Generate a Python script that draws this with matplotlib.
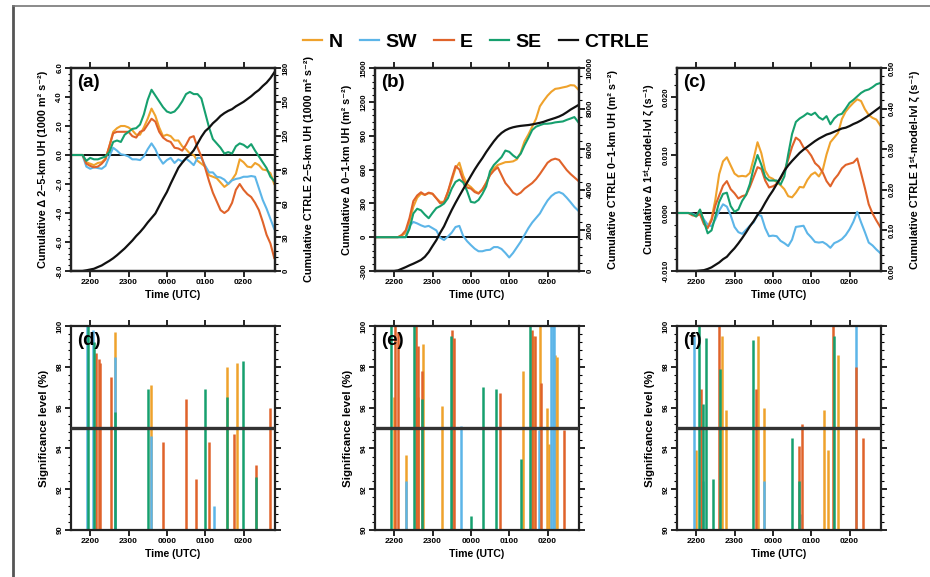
import matplotlib
matplotlib.use('Agg')
import matplotlib.pyplot as plt
from matplotlib.lines import Line2D
from matplotlib.ticker import MultipleLocator, FormatStrFormatter

plt.rcParams['font.family'] = ['Liberation Sans', 'DejaVu Sans']
plt.rcParams['font.weight'] = 'bold'
plt.rcParams['axes.labelweight'] = 'bold'

# ---------------- data ----------------
# time in hours after 2200 UTC
time_h = [-0.5, -0.4, -0.3, -0.2, -0.1,
          0.0, 0.1, 0.2, 0.3, 0.4,
          0.5, 0.6, 0.7, 0.8, 0.9,
          1.0, 1.1, 1.2, 1.3, 1.4,
          1.5, 1.6, 1.7, 1.8, 1.9,
          2.0, 2.1, 2.2, 2.3, 2.4,
          2.5, 2.6, 2.7, 2.8, 2.9,
          3.0, 3.1, 3.2, 3.3, 3.4,
          3.5, 3.6, 3.7, 3.8, 3.9,
          4.0, 4.1, 4.2, 4.3, 4.4,
          4.5, 4.6, 4.7, 4.8]
hour_ticks = [0, 1, 2, 3, 4]
hour_labels = ['2200', '2300', '0000', '0100', '0200']
series_names = ['N', 'SW', 'E', 'SE', 'CTRLE']
colors = {'N': '#EFA22C', 'SW': '#5CB5E8', 'E': '#E0632A', 'SE': '#16A06E', 'CTRLE': '#111111'}

# (a) cumulative delta 2-5-km UH (1000 m2 s-2); CTRLE on right axis
a_N = [0, 0, 0, 0, -0.5, -0.6, -0.7, -0.55, -0.5, -0.25, 0.6, 1.6, 1.85, 2.0, 2.0,
       1.9, 1.7, 1.4, 1.4, 1.9, 2.5, 3.2, 2.7, 1.9, 1.3, 1.4, 1.3, 1.0, 1.0, 0.6,
       0.4, 0.1, 0.0, -0.4, -0.6, -0.8, -1.4, -1.5, -1.6, -1.9, -2.2, -2.0, -1.7, -1.3, -0.3,
       -0.5, -0.8, -0.85, -0.55, -0.7, -1.0, -1.05, -1.25, -2.0]
a_SW = [0, 0, 0, 0, -0.8, -0.95, -0.85, -0.9, -0.95, -0.75, -0.1, 0.5, 0.3, 0.05, 0.0,
        -0.1, -0.3, -0.3, -0.35, -0.1, 0.4, 0.8, 0.4, -0.2, -0.6, -0.35, -0.2, -0.55, -0.3, -0.45,
        -0.25, -0.45, -0.7, -0.2, -0.2, -0.75, -1.2, -1.2, -1.5, -1.55, -1.7, -2.0, -1.75, -1.65, -1.6,
        -1.5, -1.5, -1.45, -1.5, -2.3, -3.1, -3.7, -4.4, -5.1]
a_E = [0, 0, 0, 0, -0.6, -0.75, -0.85, -0.8, -0.6, -0.3, 0.6, 1.5, 1.6, 1.6, 1.6,
       1.6, 1.3, 1.2, 1.6, 1.7, 2.1, 2.5, 2.3, 1.6, 1.2, 1.0, 0.9, 0.5, 0.45, 0.3,
       0.7, 1.2, 1.3, 0.5, -0.1, -0.9, -1.8, -2.6, -3.2, -3.8, -4.0, -3.8, -3.3, -2.4, -2.0,
       -2.4, -2.7, -2.9, -3.3, -3.8, -4.6, -5.5, -6.1, -7.1]
a_SE = [0, 0, 0, 0, -0.4, -0.2, -0.3, -0.3, -0.2, -0.1, 0.2, 0.9, 1.0, 0.9, 1.4,
        1.6, 1.8, 1.85, 2.1, 2.8, 3.8, 4.5, 4.1, 3.7, 3.3, 3.0, 2.9, 3.0, 3.3, 3.7,
        4.2, 4.35, 4.2, 4.2, 3.9, 2.9, 1.9, 1.1, 0.8, 0.5, 0.1, 0.2, 0.1, 0.6, 0.8,
        0.7, 0.5, 0.75, 0.3, -0.1, -0.5, -0.9, -1.5, -1.8]
a_CTRLE = [0, 0, 0, 0, 0.6, 1.3, 2.0, 3.5, 4.9, 7, 9, 11.3, 14, 17, 20,
           23.5, 27, 31, 34.5, 38.5, 43, 47, 51, 57.5, 64, 70, 77.5, 84.5, 91.5, 96,
           100, 103, 107, 113, 119, 124, 127, 131, 134, 137.5, 140, 142, 143.5, 146, 148,
           150, 152.5, 155, 158, 160.5, 164, 167, 171, 176]

# (b) cumulative delta 0-1-km UH (m2 s-2)
b_N = [0, 0, 0, 0, 0, 0, 0, 15, 38, 140, 270, 350, 386, 375, 390,
       385, 345, 313, 313, 400, 500, 610, 660, 545, 470, 445, 410, 390, 420, 485,
       555, 610, 640, 652, 665, 667, 672, 690, 750, 850, 910, 980, 1050, 1160, 1210,
       1255, 1290, 1315, 1320, 1328, 1335, 1348, 1345, 1310]
b_SW = [0, 0, 0, 0, 0, 0, 0, 0, 0, 100, 135, 122, 105, 92, 100,
        80, 60, -5, -25, 5, 40, 90, 100, 10, -35, -70, -102, -125, -125, -115,
        -112, -88, -88, -105, -140, -180, -140, -90, -40, 20, 80, 130, 170, 210, 270,
        325, 365, 390, 400, 385, 350, 310, 268, 235]
b_E = [0, 0, 0, 0, 0, 0, 0, 20, 60, 170, 320, 370, 398, 375, 395,
       385, 345, 300, 310, 400, 520, 630, 600, 505, 440, 431, 400, 386, 425, 478,
       550, 590, 620, 550, 480, 440, 395, 375, 395, 430, 455, 480, 515, 560, 610,
       660, 685, 696, 685, 640, 595, 560, 530, 500]
b_SE = [0, 0, 0, 0, 0, 0, 0, 0, 0, 75, 210, 252, 238, 200, 168,
        215, 258, 275, 298, 345, 430, 490, 510, 485, 410, 313, 306, 330, 383, 450,
        585, 640, 675, 710, 768, 757, 725, 700, 740, 815, 880, 950, 980, 993, 1005,
        1006, 1010, 1018, 1022, 1026, 1040, 1052, 1065, 1020]
b_CTRLE = [0, 0, 0, 0, 0, 0, 30, 110, 190, 280, 360, 450, 545, 700, 930,
           1230, 1520, 1880, 2200, 2610, 3000, 3360, 3700, 4030, 4350, 4680, 5000, 5290, 5560, 5860,
           6130, 6390, 6620, 6800, 6930, 7020, 7080, 7120, 7150, 7170, 7190, 7220, 7260, 7300, 7350,
           7420, 7480, 7540, 7610, 7700, 7820, 7950, 8060, 8170]

# (c) cumulative delta 1st-model-level vorticity (s-1)
c_N = [0, 0, 0, 0, -0.0002, -0.0006, 0.0005, -0.0014, -0.0024, -0.0010,
       0.0023, 0.0067, 0.0089, 0.0096, 0.0082, 0.0068, 0.0063, 0.0064, 0.0063, 0.0069,
       0.0094, 0.0122, 0.0103, 0.0073, 0.0062, 0.0059, 0.0053, 0.0048, 0.0041, 0.0029,
       0.0027, 0.0035, 0.0045, 0.0044, 0.0057, 0.0066, 0.0070, 0.0063, 0.0074, 0.0101,
       0.0122, 0.0130, 0.0138, 0.0162, 0.0175, 0.0183, 0.0190, 0.0196, 0.0193, 0.0179,
       0.0169, 0.0164, 0.0161, 0.0151]
c_SW = [0, 0, 0, 0, -0.0001, -0.0004, 0.0, -0.0011, -0.0020, -0.0023,
        -0.0011, 0.0004, 0.0015, 0.0011, -0.0004, -0.0024, -0.0033, -0.0036, -0.0029, -0.0022,
        -0.0016, -0.0003, -0.0005, -0.0026, -0.0040, -0.0039, -0.0040, -0.0048, -0.0052, -0.0057,
        -0.0046, -0.0024, -0.0023, -0.0022, -0.0035, -0.0042, -0.0050, -0.0051, -0.0050, -0.0054,
        -0.0060, -0.0052, -0.0049, -0.0045, -0.0038, -0.0028, -0.0015, 0.0002, -0.0016, -0.0033,
        -0.0051, -0.0056, -0.0063, -0.0069]
c_E = [0, 0, 0, 0, -0.0004, -0.0005, -0.0002, -0.0019, -0.0026, -0.0013,
       0.0013, 0.0030, 0.0047, 0.0055, 0.0041, 0.0034, 0.0025, 0.0029, 0.0031, 0.0045,
       0.0062, 0.0079, 0.0076, 0.0056, 0.0044, 0.0046, 0.0050, 0.0059, 0.0072, 0.0092,
       0.0114, 0.0130, 0.0125, 0.0113, 0.0108, 0.0099, 0.0086, 0.0080, 0.0070, 0.0055,
       0.0046, 0.0058, 0.0066, 0.0077, 0.0083, 0.0085, 0.0087, 0.0094, 0.0069, 0.0043,
       0.0015, -0.0001, -0.0013, -0.0024]
c_SE = [0, 0, 0, 0, -0.0002, -0.0006, 0.0006, -0.0014, -0.0035, -0.0030,
        -0.0006, 0.0019, 0.0033, 0.0035, 0.0012, 0.0002, 0.0006, 0.0021, 0.0031, 0.0050,
        0.0078, 0.0100, 0.0083, 0.0062, 0.0056, 0.0056, 0.0056, 0.0049, 0.0063, 0.0101,
        0.0136, 0.0157, 0.0163, 0.0167, 0.0172, 0.0169, 0.0173, 0.0165, 0.0161, 0.0167,
        0.0153, 0.0163, 0.0169, 0.0171, 0.0180, 0.0190, 0.0195, 0.0201, 0.0207, 0.0211,
        0.0213, 0.0217, 0.0222, 0.0224]
c_CTRLE = [0, 0, 0, 0, 0, 0.0, 0.001, 0.002, 0.005, 0.009,
           0.015, 0.021, 0.029, 0.035, 0.046, 0.056, 0.068, 0.081, 0.095, 0.110,
           0.123, 0.138, 0.151, 0.168, 0.184, 0.198, 0.214, 0.230, 0.247, 0.260,
           0.271, 0.281, 0.291, 0.299, 0.306, 0.313, 0.320, 0.326, 0.331, 0.336,
           0.339, 0.343, 0.347, 0.351, 0.353, 0.357, 0.362, 0.366, 0.371, 0.377,
           0.383, 0.390, 0.397, 0.404]

# significance levels (%) of the spikes: time (h after 2200) and level
d_N_time = [0.65, 1.58, 3.58, 3.83]
d_N_sig = [99.7, 97.1, 98.0, 98.2]
d_SW_time = [-0.07, 0.08, 0.65, 1.58, 3.23]
d_SW_sig = [100, 99.8, 98.5, 94.6, 91.2]
d_E_time = [0.16, 0.22, 0.26, 0.55, 1.91, 2.50, 2.75, 3.09, 3.74, 4.32, 4.68]
d_E_sig = [98.7, 98.4, 98.2, 97.5, 94.3, 96.4, 92.5, 94.3, 94.7, 93.2, 96.0]
d_SE_time = [-0.05, 0.11, 0.66, 1.50, 2.99, 3.58, 3.98, 4.33]
d_SE_sig = [100, 99.2, 95.8, 96.9, 96.9, 96.5, 98.3, 92.6]

e_N_time = [0.0, 0.31, 0.63, 0.75, 1.24, 3.37, 3.63, 3.81, 3.98, 4.05, 4.20, 4.25]
e_N_sig = [96.5, 93.7, 96.5, 99.1, 96.1, 97.8, 99.5, 100, 96.0, 94.2, 98.6, 98.5]
e_SW_time = [0.31, 1.74, 3.77, 4.10, 4.14, 4.17]
e_SW_sig = [92.4, 95.1, 94.9, 100, 100, 100]
e_E_time = [0.03, 0.09, 0.57, 0.61, 0.72, 1.50, 1.57, 2.75, 3.59, 3.68, 3.83, 4.42]
e_E_sig = [100, 99.7, 100, 99.0, 97.8, 99.8, 99.4, 96.7, 99.8, 99.5, 97.2, 94.9]
e_SE_time = [-0.09, 0.52, 0.73, 1.48, 2.00, 2.31, 2.66, 3.30, 3.55]
e_SE_sig = [100, 100, 96.4, 99.5, 90.7, 97.0, 96.9, 93.5, 100]

f_N_time = [-0.01, 0.67, 0.77, 1.60, 1.76, 3.34, 3.43, 3.69]
f_N_sig = [93.9, 99.5, 95.9, 99.5, 96.0, 95.9, 93.9, 98.6]
f_SW_time = [-0.05, 0.19, 1.76, 2.73, 4.17]
f_SW_sig = [99.5, 92.4, 92.4, 90.8, 100]
f_E_time = [0.12, 0.60, 1.57, 2.69, 2.75, 3.57, 4.17, 4.34]
f_E_sig = [96.9, 100, 96.9, 94.1, 95.2, 100, 98.0, 94.5]
f_SE_time = [0.08, 0.17, 0.25, 0.43, 0.62, 1.49, 2.50, 2.67, 3.60]
f_SE_sig = [100, 96.2, 99.4, 92.5, 97.9, 99.3, 94.5, 92.4, 99.5]

sig_threshold = 95

# ---------------- figure ----------------
fig = plt.figure(figsize=(9.3, 5.77), dpi=100)
W, H = 930.0, 577.0
lefts_px = [71, 375, 677]
width_px = 204
top_row = (68, 271)
bot_row = (326, 530)
XLIM = (-0.5, 4.82)

TICK_FS = 6.0
LAB_FS = 7.8


def make_ax(left_px, rows):
    t, b = rows
    return fig.add_axes([left_px / W, 1 - b / H, width_px / W, (b - t) / H])


def style_x(ax):
    ax.set_xlim(*XLIM)
    ax.set_xticks(hour_ticks)
    ax.set_xticklabels(hour_labels)
    ax.tick_params(axis='x', which='both', direction='out', top=True, bottom=True,
                   length=4, width=1.2, labelsize=TICK_FS, pad=1.5)
    ax.set_xlabel('Time (UTC)', fontsize=7.6, labelpad=3)
    for s in ax.spines.values():
        s.set_linewidth(1.6)
        s.set_color('#222222')


def style_y(ax, major, minor, fmt):
    ax.yaxis.set_major_locator(MultipleLocator(major))
    ax.yaxis.set_minor_locator(MultipleLocator(minor))
    ax.yaxis.set_major_formatter(FormatStrFormatter(fmt))
    ax.tick_params(axis='y', which='major', direction='out', length=4, width=1.2,
                   labelsize=TICK_FS - 0.3, labelrotation=90, pad=1.5)
    ax.tick_params(axis='y', which='minor', direction='out', length=2, width=0.8)
    for lab in ax.get_yticklabels():
        lab.set_va('center')


top_cfg = [
    dict(data=(a_N, a_SW, a_E, a_SE, a_CTRLE), ylim=(-8, 6), maj=2, mnr=0.4, fmt='%.1f',
         rylim=(0, 180), rmaj=30, rmnr=6, rfmt='%d',
         llab='Cumulative Δ 2–5-km UH (1000 m² s⁻²)',
         rlab='Cumulative CTRLE 2–5-km UH (1000 m² s⁻²)', tag='(a)'),
    dict(data=(b_N, b_SW, b_E, b_SE, b_CTRLE), ylim=(-300, 1500), maj=300, mnr=60, fmt='%d',
         rylim=(0, 10000), rmaj=2000, rmnr=400, rfmt='%d',
         llab='Cumulative Δ 0–1-km UH (m² s⁻²)',
         rlab='Cumulative CTRLE 0–1-km UH (m² s⁻²)', tag='(b)'),
    dict(data=(c_N, c_SW, c_E, c_SE, c_CTRLE), ylim=(-0.010, 0.025), maj=0.010, mnr=0.002, fmt='%.3f',
         rylim=(0, 0.5), rmaj=0.1, rmnr=0.02, rfmt='%.2f',
         llab='Cumulative Δ 1ˢᵗ-model-lvl ζ (s⁻¹)',
         rlab='Cumulative CTRLE 1ˢᵗ-model-lvl ζ (s⁻¹)', tag='(c)'),
]

for left, cfg in zip(lefts_px, top_cfg):
    ax = make_ax(left, top_row)
    ax.axhline(0, color='#111111', lw=1.4, zorder=1)
    for name, vals in zip(series_names[:4], cfg['data'][:4]):
        ax.plot(time_h, vals, color=colors[name], lw=1.5, zorder=2)
    ax.set_ylim(*cfg['ylim'])
    style_x(ax)
    style_y(ax, cfg['maj'], cfg['mnr'], cfg['fmt'])
    ax.set_ylabel(cfg['llab'], fontsize=LAB_FS, labelpad=6)
    ax.text(0.03, 0.97, cfg['tag'], transform=ax.transAxes, fontsize=13.5,
            fontweight='bold', va='top', ha='left')
    ax2 = ax.twinx()
    ax2.plot(time_h, cfg['data'][4], color=colors['CTRLE'], lw=1.6)
    ax2.set_ylim(*cfg['rylim'])
    ax2.set_xlim(*XLIM)
    style_y(ax2, cfg['rmaj'], cfg['rmnr'], cfg['rfmt'])
    ax2.set_ylabel(cfg['rlab'], fontsize=LAB_FS, labelpad=10)
    for s in ax2.spines.values():
        s.set_linewidth(1.6)
        s.set_color('#222222')

bot_cfg = [
    ((d_N_time, d_N_sig), (d_SW_time, d_SW_sig), (d_E_time, d_E_sig), (d_SE_time, d_SE_sig), '(d)'),
    ((e_N_time, e_N_sig), (e_SW_time, e_SW_sig), (e_E_time, e_E_sig), (e_SE_time, e_SE_sig), '(e)'),
    ((f_N_time, f_N_sig), (f_SW_time, f_SW_sig), (f_E_time, f_E_sig), (f_SE_time, f_SE_sig), '(f)'),
]

for left, cfg in zip(lefts_px, bot_cfg):
    ax = make_ax(left, bot_row)
    for name, (tt, vv) in zip(series_names[:4], cfg[:4]):
        ax.vlines(tt, 89, vv, colors=colors[name], lw=1.8, zorder=2)
    ax.axhline(sig_threshold, color='#333333', lw=2.4, zorder=3)
    ax.set_ylim(90, 100)
    style_x(ax)
    style_y(ax, 2, 0.4, '%d')
    ax.tick_params(axis='y', which='both', right=True)
    ax.set_ylabel('Significance level (%)', fontsize=8.2, labelpad=5)
    ax.text(0.03, 0.97, cfg[4], transform=ax.transAxes, fontsize=13.5,
            fontweight='bold', va='top', ha='left', zorder=5)

# legend
handles = [Line2D([], [], color=colors[n], lw=1.6) for n in series_names]
fig.legend(handles, series_names, loc='center', bbox_to_anchor=(476 / W, 1 - 42 / H),
           ncol=5, frameon=False, handlelength=1.0, handletextpad=0.3,
           columnspacing=0.9, prop={'weight': 'bold', 'size': 14})

# page frame lines
fig.add_artist(Line2D([13 / W, 13 / W], [0, 1 - 6 / H], transform=fig.transFigure,
                      color='#555555', lw=2.0))
fig.add_artist(Line2D([13 / W, 1], [1 - 6 / H, 1 - 6 / H], transform=fig.transFigure,
                      color='#777777', lw=1.2))

fig.savefig('out.png', dpi=100)
